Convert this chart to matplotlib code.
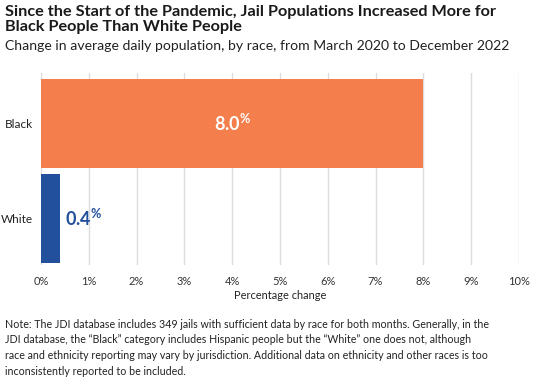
import numpy as np
import matplotlib as mpl
import matplotlib.pyplot as plt

plt.rcParams['font.family'] = ['Lato', 'DejaVu Sans']
mpl.rcParams.update({'mathtext.fontset': 'custom', 'mathtext.rm': 'Lato',
                     'mathtext.bf': 'Lato:bold'})

races = ['White', 'Black']
change = [0.4, 8.0]
bar_colors = ['#22509c', '#f47e4c']
xticks = np.arange(0, 11, 1)

fig = plt.figure(figsize=(5.37, 3.77), dpi=100)
ax = fig.add_axes([0.0764, 0.297, 0.89, 0.509])

ax.barh(range(len(races)), change, height=0.93, color=bar_colors, zorder=3)
ax.set_xlim(0, 10)
ax.set_ylim(-0.49, 1.53)
ax.set_xticks(xticks)
ax.set_xticklabels(['%d%%' % t for t in xticks], fontsize=8, color='#333333')
ax.set_yticks(range(len(races)))
ax.set_yticklabels(races, fontsize=8.5, color='#222222')
ax.tick_params(length=0, pad=6)
ax.tick_params(axis='x', pad=8)
ax.grid(axis='x', color='#dcdcdc', lw=1, zorder=0)
for s in ax.spines.values():
    s.set_visible(False)
ax.set_xlabel('Percentage change', fontsize=7.9, color='#222222', labelpad=2)

# value labels
ax.text(change[1] / 2, 1, r'$\mathbf{%.1f^{\%%}}$' % change[1], color='white',
        fontsize=13, ha='center', va='center', zorder=4)
ax.text(change[0] + 0.1, 0, r'$\mathbf{%.1f^{\%%}}$' % change[0], color='#22509c',
        fontsize=13, ha='left', va='center', zorder=4)

fig.text(0.009, 0.987, 'Since the Start of the Pandemic, Jail Populations Increased More for\nBlack People Than White People',
         fontsize=11.7, fontweight='bold', color='#1a1a1a', va='top', linespacing=1.12)
fig.text(0.009, 0.895, 'Change in average daily population, by race, from March 2020 to December 2022',
         fontsize=10.1, color='#222222', va='top')
fig.text(0.009, 0.155, 'Note: The JDI database includes 349 jails with sufficient data by race for both months. Generally, in the\n'
         'JDI database, the \u201cBlack\u201d category includes Hispanic people but the \u201cWhite\u201d one does not, although\n'
         'race and ethnicity reporting may vary by jurisdiction. Additional data on ethnicity and other races is too\n'
         'inconsistently reported to be included.',
         fontsize=7.65, color='#222222', va='top', linespacing=1.52)

fig.savefig('out.png', dpi=100)
